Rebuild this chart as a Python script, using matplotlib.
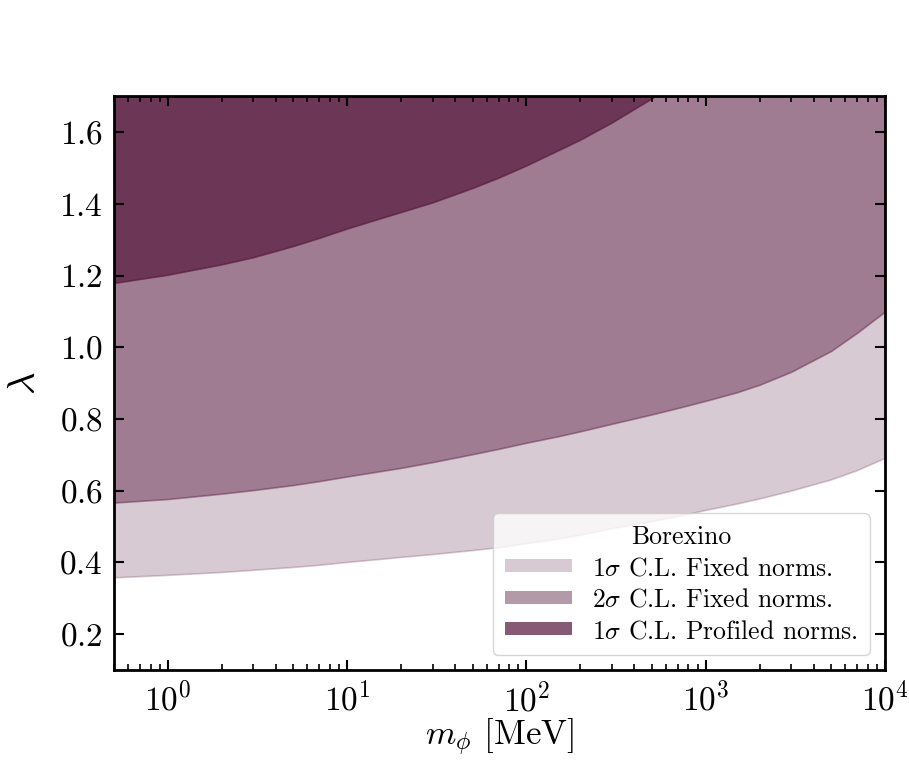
import numpy as np
import matplotlib
matplotlib.use("Agg")
import matplotlib.pyplot as plt
from matplotlib.patches import Patch
from matplotlib.ticker import LogLocator, MultipleLocator, NullFormatter

plt.rcParams["mathtext.fontset"] = "cm"
plt.rcParams["font.family"] = "serif"
plt.rcParams["font.serif"] = ["cmr10"]
plt.rcParams["axes.formatter.use_mathtext"] = True
plt.rcParams["axes.unicode_minus"] = False

# Mediator mass grid [MeV] and lower edges of the allowed regions in lambda
m_phi = [0.5, 1, 2, 3, 5, 7, 10, 15, 20, 30, 50, 70, 100, 150, 200, 300,
         500, 700, 1000, 1500, 2000, 3000, 5000, 7000, 10000]
lam_1sig_fixed = [0.357, 0.364, 0.372, 0.378, 0.386, 0.392, 0.400, 0.408,
                  0.414, 0.422, 0.433, 0.441, 0.452, 0.465, 0.476, 0.494,
                  0.514, 0.528, 0.545, 0.563, 0.577, 0.599, 0.630, 0.656,
                  0.690]
lam_2sig_fixed = [0.567, 0.577, 0.592, 0.602, 0.616, 0.627, 0.640, 0.654,
                  0.664, 0.680, 0.702, 0.717, 0.734, 0.752, 0.766, 0.787,
                  0.813, 0.831, 0.851, 0.875, 0.896, 0.932, 0.990, 1.041,
                  1.100]
m_phi_prof = [0.5, 1, 2, 3, 5, 7, 10, 15, 20, 30, 50, 70, 100, 150, 200,
              300, 500, 700, 1000]
lam_1sig_prof = [1.180, 1.203, 1.232, 1.252, 1.283, 1.306, 1.332, 1.359,
                 1.378, 1.405, 1.445, 1.474, 1.508, 1.550, 1.580, 1.628,
                 1.695, 1.745, 1.810]

labels = [r"$1\sigma$ C.L. Fixed norms.",
          r"$2\sigma$ C.L. Fixed norms.",
          r"$1\sigma$ C.L. Profiled norms."]
legend_title = "Borexino"

base = "#5a1d41"
alphas = [0.23, 0.45, 0.73]

fig = plt.figure(figsize=(9.09, 7.61), dpi=100)
ax = fig.add_axes([0.1254, 0.1196, 0.8482, 0.7536])

y_top = 2.5
series = [(m_phi, lam_1sig_fixed), (m_phi, lam_2sig_fixed), (m_phi_prof, lam_1sig_prof)]
for (xs, ys), a in zip(series, alphas):
    ax.fill_between(xs, ys, y_top, facecolor=base, edgecolor=base,
                    alpha=a, linewidth=1.2)

ax.set_xscale("log")
ax.set_xlim(0.5, 1e4)
ax.set_ylim(0.1, 1.7)
ax.yaxis.set_major_locator(MultipleLocator(0.2))
ax.xaxis.set_major_locator(LogLocator(base=10, numticks=10))
ax.xaxis.set_minor_locator(LogLocator(base=10, subs=np.arange(2, 10), numticks=20))
ax.xaxis.set_minor_formatter(NullFormatter())

ax.tick_params(which="both", direction="in", top=True, right=True,
               labelsize=24, pad=8)
ax.tick_params(which="major", length=7, width=1.5)
ax.tick_params(which="minor", length=4, width=1.2)
for s in ax.spines.values():
    s.set_linewidth(2)

ax.set_xlabel(r"$m_\phi$ [MeV]", fontsize=25, labelpad=0)
ax.set_ylabel(r"$\lambda$", fontsize=28, labelpad=12)

handles = [Patch(facecolor=base, alpha=a, linewidth=0) for a in alphas]
leg = ax.legend(handles, labels, title=legend_title, loc="lower right",
                fontsize=18.5, title_fontsize=18.5, handlelength=2.6,
                handleheight=0.4, labelspacing=0.3, borderpad=0.45,
                handletextpad=0.8, borderaxespad=0.6,
                fancybox=True, framealpha=0.8)

fig.savefig("out.png", dpi=100)
